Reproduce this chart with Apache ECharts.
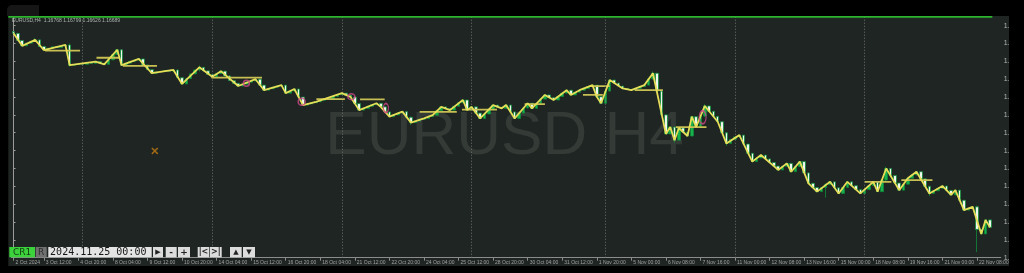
<!DOCTYPE html>
<html><head><meta charset="utf-8">
<script src="https://cdn.jsdelivr.net/npm/echarts@6/dist/echarts.min.js"></script>
<style>html,body{margin:0;padding:0;background:#000;overflow:hidden;width:1024px;height:273px}#c{position:absolute;left:0;top:0;width:1009px;height:273px}</style>
</head><body><div id="c"></div><script>
// ---- data (EURUSD H4, bar index 0 = first visible bar) ----
const firstOpen = 1.1080;
const closes = [
1.1074,1.1050,1.1032,1.1041,1.1047,1.1052,1.1030,1.1018,1.1024,1.1029,
1.1026,1.1031,1.1035,1.0967,1.0969,1.0972,1.0970,1.0975,1.0973,1.0979,
1.0974,1.0970,1.0985,1.1003,1.1019,1.0967,1.0974,1.0980,1.0984,1.0988,
1.0968,1.0952,1.0940,1.0944,1.0946,1.0949,1.0947,1.0951,1.0925,1.0904,
1.0922,1.0938,1.0951,1.0960,1.0948,1.0936,1.0928,1.0939,1.0947,1.0931,
1.0915,1.0906,1.0897,1.0903,1.0910,1.0914,1.0920,1.0900,1.0883,1.0888,
1.0893,1.0897,1.0900,1.0873,1.0880,1.0887,1.0860,1.0833,1.0837,1.0841,
1.0844,1.0849,1.0855,1.0853,1.0862,1.0868,1.0873,1.0866,1.0860,1.0838,
1.0816,1.0822,1.0829,1.0834,1.0839,1.0827,1.0810,1.0794,1.0800,1.0806,
1.0811,1.0792,1.0774,1.0779,1.0785,1.0788,1.0794,1.0799,1.0814,1.0827,
1.0821,1.0816,1.0829,1.0841,1.0850,1.0816,1.0827,1.0806,1.0788,1.0803,
1.0819,1.0833,1.0826,1.0822,1.0833,1.0810,1.0788,1.0806,1.0823,1.0839,
1.0822,1.0838,1.0853,1.0867,1.0858,1.0850,1.0862,1.0873,1.0883,1.0867,
1.0876,1.0883,1.0889,1.0895,1.0900,1.0861,1.0839,1.0880,1.0917,1.0907,
1.0897,1.0889,1.0886,1.0883,1.0889,1.0895,1.0900,1.0921,1.0940,1.0880,
1.0800,1.0736,1.0759,1.0715,1.0756,1.0742,1.0729,1.0794,1.0760,1.0796,
1.0830,1.0812,1.0795,1.0777,1.0740,1.0704,1.0718,1.0726,1.0732,1.0702,
1.0671,1.0643,1.0655,1.0665,1.0652,1.0640,1.0628,1.0615,1.0627,1.0637,
1.0609,1.0626,1.0643,1.0605,1.0570,1.0556,1.0542,1.0556,1.0566,1.0575,
1.0555,1.0536,1.0556,1.0575,1.0562,1.0549,1.0536,1.0549,1.0562,1.0575,
1.0542,1.0581,1.0620,1.0596,1.0571,1.0547,1.0567,1.0587,1.0598,1.0609,
1.0585,1.0560,1.0536,1.0545,1.0553,1.0561,1.0546,1.0531,1.0547,1.0513,
1.0480,1.0486,1.0491,1.0415,1.0400,1.0447,1.0422
];
// visible wicks [bar index, low, high]
const wickIdx  = [5,     13,    43,    92,    148,   153,   160,   165,   188,   202,   212,   223];
const wickLow  = [1.1046,1.0962,1.0946,1.0766,1.0918,1.0706,1.0792,1.0696,1.0522,1.0576,1.0527,1.0339];
const wickHigh = [1.1058,1.1040,1.0966,1.0794,1.0946,1.0760,1.0836,1.0742,1.0570,1.0626,1.0561,1.0495];
// zigzag pivots
const zzIdx = [0,2,5,7,12,13,19,21,24,25,29,32,37,39,43,46,48,52,56,58,62,63,65,67,70,76,78,80,84,85,87,90,92,95,97,99,101,104,105,106,108,111,113,114,116,119,120,123,125,128,129,131,134,135,136,138,141,143,146,148,151,152,153,154,156,157,158,160,163,165,168,171,173,177,179,180,182,184,186,189,191,193,196,199,200,202,205,207,209,212,215,217,218,220,222,224,225,226];
const zzPrice = [1.1074,1.1032,1.1052,1.1018,1.1035,1.0967,1.0979,1.0970,1.1019,1.0967,1.0988,1.0940,1.0951,1.0904,1.0960,1.0928,1.0947,1.0897,1.0920,1.0883,1.0900,1.0873,1.0887,1.0833,1.0844,1.0873,1.0860,1.0816,1.0839,1.0827,1.0794,1.0811,1.0774,1.0788,1.0799,1.0827,1.0816,1.0850,1.0816,1.0827,1.0788,1.0833,1.0822,1.0833,1.0788,1.0839,1.0822,1.0867,1.0850,1.0883,1.0867,1.0883,1.0900,1.0861,1.0839,1.0917,1.0889,1.0883,1.0900,1.0940,1.0736,1.0759,1.0715,1.0756,1.0729,1.0794,1.0760,1.0830,1.0777,1.0704,1.0732,1.0643,1.0665,1.0615,1.0637,1.0609,1.0643,1.0570,1.0542,1.0575,1.0536,1.0575,1.0536,1.0575,1.0542,1.0620,1.0547,1.0587,1.0609,1.0536,1.0561,1.0531,1.0547,1.0480,1.0491,1.0400,1.0447,1.0422];
// horizontal level segments
const segStart = [7.3, 19.2,25.3,45.8,70.1,80.2,94.0,103.8,118.3,131.8,133.4,143.8,153.3,197.0,205.5];
const segEnd   = [15.4,24.6,33.2,57.5,76.7,85.9,102.6,111.9,123.0,136.4,138.0,150.3,160.4,203.2,212.7];
const segPrice = [1.1016,1.0992,1.0965,1.0925,1.0853,1.0852,1.0810,1.0818,1.0836,1.0867,1.0897,1.0883,1.0759,1.0575,1.0581];
// pink markers
const circleIdx   = [53.9,66.7,78.2,86.2,159.5];
const circlePrice = [1.0906,1.0844,1.0861,1.0823,1.0792];
const circleW = [6,7,7,5,7];
const circleH = [6,7,6,9,13];
const crossIdx = [32.7], crossPrice = [1.0679];
// week separators
const sepIdx = [16,46,76,106,137,167,197];
// time axis labels
const labelIdx = [0,7,15,23,31,39,47,55,63,71,79,87,95,103,111,119,127,135,143,151,159,167,175,183,191,199,207,215,223];
const labelText = ['2 Oct 2024','3 Oct 12:00','4 Oct 20:00','8 Oct 04:00','9 Oct 12:00','10 Oct 20:00','14 Oct 04:00','15 Oct 12:00','16 Oct 20:00','18 Oct 04:00','21 Oct 12:00','22 Oct 20:00','24 Oct 04:00','25 Oct 12:00','28 Oct 20:00','30 Oct 04:00','31 Oct 12:00','1 Nov 20:00','5 Nov 00:00','6 Nov 08:00','7 Nov 16:00','11 Nov 00:00','12 Nov 08:00','13 Nov 16:00','15 Nov 00:00','18 Nov 08:00','19 Nov 16:00','21 Nov 00:00','22 Nov 08:00'];
const nCat = 229;
const yMin = 1.032, yMax = 1.1129, yStep = 0.006;

// ---- build ----
const categories = [];
for (let i = 0; i < nCat; i++) categories.push('');
labelIdx.forEach((k, j) => { categories[k] = labelText[j]; });
const labelSet = new Set(labelIdx);

const candles = closes.map((c, i) => {
  const o = i ? closes[i - 1] : firstOpen;
  let lo = Math.min(o, c), hi = Math.max(o, c);
  const w = wickIdx.indexOf(i);
  if (w >= 0) { lo = Math.min(lo, wickLow[w]); hi = Math.max(hi, wickHigh[w]); }
  return [o, c, lo, hi];
});

const segSeries = segStart.map((s, i) => ({
  type: 'line', xAxisIndex: 1, yAxisIndex: 0, symbol: 'none', z: 4, silent: true,
  lineStyle: { color: '#c8bf52', width: 1.8 },
  data: [[s, segPrice[i]], [segEnd[i], segPrice[i]]]
}));

const ctrl = [
  { x: 9.3, w: 25.7, fill: '#3cd23c', text: 'CR1', color: '#143a14', font: '9px "DejaVu Sans"' },
  { x: 35.7, w: 11, fill: '#707070', text: 'R', color: '#2b2b2b', font: '9px "DejaVu Sans"' },
  { x: 48.3, w: 103.4, fill: '#e4e4e4', text: '2024.11.25 00:00', color: '#151515', font: '10px "DejaVu Sans Mono"', left: true },
  { x: 153, w: 10, fill: '#dcdcdc', text: '▶', color: '#222', font: '7px "DejaVu Sans"' },
  { x: 165.7, w: 11, fill: '#dcdcdc', text: '-', color: '#222', font: 'bold 9px "DejaVu Sans"' },
  { x: 178, w: 12, fill: '#dcdcdc', text: '+', color: '#222', font: 'bold 9px "DejaVu Sans"' },
  { x: 197.7, w: 11.6, fill: '#dcdcdc', text: '|<', color: '#222', font: 'bold 8px "DejaVu Sans"' },
  { x: 210, w: 11.7, fill: '#dcdcdc', text: '>|', color: '#222', font: 'bold 8px "DejaVu Sans"' },
  { x: 230, w: 11.7, fill: '#dcdcdc', text: '▲', color: '#222', font: '7px "DejaVu Sans"' },
  { x: 243, w: 12, fill: '#dcdcdc', text: '▼', color: '#222', font: '7px "DejaVu Sans"' }
];
const gfx = [
  { type: 'text', x: 504.5, y: 137, z: 0, silent: true,
    style: { text: 'EURUSD H4', fill: '#343b37', font: '62px "Liberation Sans"', align: 'center', verticalAlign: 'middle' } },
  { type: 'rect', z: 100, silent: true, shape: { x: 0, y: 0, width: 1009, height: 16 }, style: { fill: '#000' } },
  { type: 'rect', z: 101, silent: true, shape: { x: 7, y: 5, width: 32, height: 11, r: [5, 0, 0, 0] }, style: { fill: '#161616' } },
  { type: 'rect', z: 100, silent: true, shape: { x: 0, y: 0, width: 8.3, height: 273 }, style: { fill: '#000' } },
  { type: 'rect', z: 100, silent: true, shape: { x: 0, y: 266, width: 1009, height: 7 }, style: { fill: '#000' } },
  { type: 'rect', z: 101, silent: true, shape: { x: 8.3, y: 16, width: 984, height: 1.8 }, style: { fill: '#2db52d' } },
  { type: 'text', x: 12, y: 21, z: 60, silent: true,
    style: { text: 'EURUSD,H4  1.16768 1.16799 1.16626 1.16689', fill: '#aeb3b0', font: '5px "Liberation Sans"', align: 'left', verticalAlign: 'middle' } }
];
ctrl.forEach(b => {
  gfx.push({ type: 'rect', z: 60, silent: true, shape: { x: b.x, y: 247, width: b.w, height: 10.3 }, style: { fill: b.fill } });
  gfx.push({ type: 'text', z: 61, silent: true, x: b.left ? b.x + 1.8 : b.x + b.w / 2, y: 252.3,
    style: { text: b.text, fill: b.color, font: b.font, align: b.left ? 'left' : 'center', verticalAlign: 'middle' } });
});

const chart = echarts.init(document.getElementById('c'), null, { renderer: 'canvas' });
chart.setOption({
  animation: false,
  backgroundColor: '#1e2522',
  grid: { left: 11.39, right: 8.3, top: 17, bottom: 15.3, containLabel: false, outerBoundsMode: 'none' },
  xAxis: [
    { type: 'category', data: categories, boundaryGap: true,
      axisLine: { show: true, lineStyle: { color: '#8c8c8c', width: 1 } },
      axisTick: { show: true, alignWithLabel: true, interval: (i) => labelSet.has(i), length: 3, lineStyle: { color: '#8c8c8c' } },
      axisLabel: { interval: (i) => labelSet.has(i), align: 'left', fontSize: 5, color: '#a3a3a3', margin: 2.5, padding: [0, 0, 0, 2], fontFamily: 'Liberation Sans' },
      splitLine: { show: false } },
    { type: 'value', min: -0.5, max: nCat - 0.5, show: false }
  ],
  yAxis: { type: 'value', position: 'right', min: yMin, max: yMax, interval: yStep,
    axisLine: { show: true, lineStyle: { color: '#9a9a9a' } },
    axisTick: { show: true, length: 2, lineStyle: { color: '#9a9a9a' } },
    axisLabel: { fontSize: 7, color: '#b5b5b5', margin: 3, showMaxLabel: false, fontFamily: 'Liberation Sans', formatter: v => v.toFixed(5) },
    splitLine: { show: false } },
  graphic: { elements: gfx },
  series: [
    { type: 'candlestick', xAxisIndex: 0, yAxisIndex: 0, data: candles, barWidth: 3, z: 2,
      itemStyle: { color: '#19b04e', color0: '#eef6ee', borderColor: '#0f8a3a', borderColor0: '#0f8a3a', borderWidth: 0.8 } },
    { type: 'line', xAxisIndex: 1, yAxisIndex: 0, symbol: 'none', z: 5, silent: true,
      lineStyle: { color: '#e6dd58', width: 1.8 },
      data: zzIdx.map((x, i) => [x, zzPrice[i]]),
      markLine: { silent: true, symbol: 'none', label: { show: false },
        lineStyle: { color: '#727272', width: 1, type: [1, 2] },
        data: sepIdx.map(x => ({ xAxis: x })) } },
    ...segSeries,
    { type: 'scatter', xAxisIndex: 1, yAxisIndex: 0, z: 6, silent: true, symbol: 'circle',
      itemStyle: { color: 'rgba(0,0,0,0)', borderColor: '#d04a88', borderWidth: 1.5 },
      data: circleIdx.map((x, i) => ({ value: [x, circlePrice[i]], symbolSize: [circleW[i], circleH[i]] })) },
    { type: 'scatter', xAxisIndex: 1, yAxisIndex: 0, z: 6, silent: true,
      symbol: 'path://M0,1.5L1.5,0L5,3.5L8.5,0L10,1.5L6.5,5L10,8.5L8.5,10L5,6.5L1.5,10L0,8.5L3.5,5Z', symbolSize: 7,
      itemStyle: { color: '#c27a12' },
      data: crossIdx.map((x, i) => [x, crossPrice[i]]) }
  ]
});
</script></body></html>
